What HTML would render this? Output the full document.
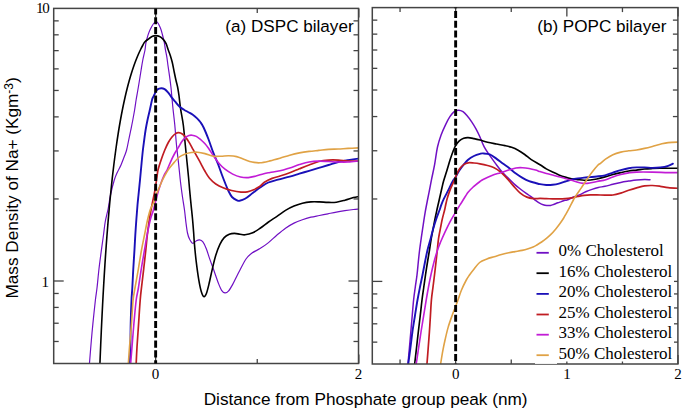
<!DOCTYPE html>
<html><head><meta charset="utf-8"><style>
html,body{margin:0;padding:0;background:#fff;width:685px;height:412px;overflow:hidden}
svg{display:block}
</style></head><body>
<svg width="685" height="412" viewBox="0 0 685 412">
<rect width="685" height="412" fill="#fff"/>
<clipPath id="cl"><rect x="53.70" y="8.40" width="304.80" height="355.10"/></clipPath>
<g clip-path="url(#cl)" fill="none" stroke-linejoin="round" stroke-linecap="round">
<path d="M89.50,363.00 C89.80,359.33 90.73,347.57 91.30,341.00 C91.87,334.43 92.22,330.43 92.90,323.60 C93.58,316.77 94.72,305.93 95.40,300.00 C96.08,294.07 96.40,293.20 97.00,288.00 C97.60,282.80 98.25,275.23 99.00,268.80 C99.75,262.37 100.75,255.03 101.50,249.40 C102.25,243.77 102.88,239.57 103.50,235.00 C104.12,230.43 104.42,226.42 105.20,222.00 C105.98,217.58 107.32,213.00 108.20,208.50 C109.08,204.00 109.48,199.75 110.50,195.00 C111.52,190.25 113.13,183.83 114.30,180.00 C115.47,176.17 116.38,174.50 117.50,172.00 C118.62,169.50 119.83,167.67 121.00,165.00 C122.17,162.33 123.57,158.50 124.50,156.00 C125.43,153.50 125.90,152.67 126.60,150.00 C127.30,147.33 128.00,143.33 128.70,140.00 C129.40,136.67 130.12,133.33 130.80,130.00 C131.48,126.67 132.17,123.33 132.80,120.00 C133.43,116.67 134.05,113.33 134.60,110.00 C135.15,106.67 135.62,103.00 136.10,100.00 C136.58,97.00 137.07,94.50 137.50,92.00 C137.93,89.50 138.28,87.50 138.70,85.00 C139.12,82.50 139.60,79.50 140.00,77.00 C140.40,74.50 140.63,72.83 141.10,70.00 C141.57,67.17 142.15,63.33 142.80,60.00 C143.45,56.67 144.42,53.17 145.00,50.00 C145.58,46.83 145.43,44.43 146.30,41.00 C147.17,37.57 148.58,32.65 150.20,29.40 C151.82,26.15 154.33,21.82 156.00,21.50 C157.67,21.18 159.12,25.25 160.20,27.50 C161.28,29.75 161.82,32.53 162.50,35.00 C163.18,37.47 163.82,39.87 164.30,42.30 C164.78,44.73 164.98,47.18 165.40,49.60 C165.82,52.02 166.38,54.23 166.80,56.80 C167.22,59.37 167.45,61.82 167.90,65.00 C168.35,68.18 169.00,72.27 169.50,75.90 C170.00,79.53 170.53,83.62 170.90,86.80 C171.27,89.98 171.35,91.33 171.70,95.00 C172.05,98.67 172.48,103.80 173.00,108.80 C173.52,113.80 174.22,118.97 174.80,125.00 C175.38,131.03 175.87,138.55 176.50,145.00 C177.13,151.45 177.93,157.53 178.60,163.70 C179.27,169.87 179.85,176.45 180.50,182.00 C181.15,187.55 181.83,192.33 182.50,197.00 C183.17,201.67 183.92,205.67 184.50,210.00 C185.08,214.33 185.50,219.17 186.00,223.00 C186.50,226.83 186.92,230.33 187.50,233.00 C188.08,235.67 188.63,237.28 189.50,239.00 C190.37,240.72 191.60,242.97 192.70,243.30 C193.80,243.63 194.97,241.57 196.10,241.00 C197.23,240.43 198.37,239.75 199.50,239.90 C200.63,240.05 201.77,240.43 202.90,241.90 C204.03,243.37 205.17,245.87 206.30,248.70 C207.43,251.53 208.42,255.22 209.70,258.90 C210.98,262.58 212.58,266.83 214.00,270.80 C215.42,274.77 216.93,279.45 218.20,282.70 C219.47,285.95 220.47,288.60 221.60,290.30 C222.73,292.00 223.87,292.75 225.00,292.90 C226.13,293.05 227.12,292.62 228.40,291.20 C229.68,289.78 231.28,286.95 232.70,284.40 C234.12,281.85 235.68,278.30 236.90,275.90 C238.12,273.50 238.48,272.82 240.00,270.00 C241.52,267.18 244.00,261.83 246.00,259.00 C248.00,256.17 249.67,254.73 252.00,253.00 C254.33,251.27 257.25,250.33 260.00,248.60 C262.75,246.87 265.67,244.87 268.50,242.60 C271.33,240.33 274.17,237.40 277.00,235.00 C279.83,232.60 282.67,230.18 285.50,228.20 C288.33,226.22 291.18,224.52 294.00,223.10 C296.82,221.68 299.58,220.68 302.40,219.70 C305.22,218.72 308.07,217.90 310.90,217.20 C313.73,216.50 316.57,216.07 319.40,215.50 C322.23,214.93 325.07,214.37 327.90,213.80 C330.73,213.23 333.57,212.62 336.40,212.10 C339.23,211.58 342.07,211.13 344.90,210.70 C347.73,210.27 351.13,209.78 353.40,209.50 C355.67,209.22 357.65,209.08 358.50,209.00" stroke="#7010c4" stroke-width="1.20"/>
<path d="M99.92,364.00 C100.05,360.83 100.41,351.50 100.69,345.00 C100.97,338.50 101.28,331.67 101.59,325.00 C101.91,318.33 102.23,311.67 102.58,305.00 C102.93,298.33 103.29,291.67 103.68,285.00 C104.07,278.33 104.47,271.67 104.90,265.00 C105.33,258.33 105.78,251.67 106.27,245.00 C106.75,238.33 107.26,231.67 107.81,225.00 C108.36,218.33 108.93,211.67 109.55,205.00 C110.17,198.33 110.82,191.67 111.53,185.00 C112.24,178.33 113.06,171.17 113.81,165.00 C114.56,158.83 115.30,153.33 116.04,148.00 C116.78,142.67 117.53,137.67 118.27,133.00 C119.01,128.33 119.71,124.17 120.46,120.00 C121.21,115.83 121.97,111.83 122.75,108.00 C123.53,104.17 124.36,100.33 125.11,97.00 C125.86,93.67 126.55,90.83 127.27,88.00 C127.99,85.17 128.72,82.50 129.42,80.00 C130.12,77.50 130.76,75.33 131.49,73.00 C132.22,70.67 133.06,68.17 133.81,66.00 C134.56,63.83 135.24,62.00 136.02,60.00 C136.80,58.00 137.70,55.83 138.50,54.00 C139.30,52.17 140.10,50.50 140.84,49.00 C141.58,47.50 142.29,46.17 142.94,45.00 C143.59,43.83 143.71,43.07 144.72,42.00 C145.73,40.93 147.70,39.55 149.00,38.60 C150.30,37.65 151.40,36.80 152.50,36.30 C153.60,35.80 154.42,35.57 155.60,35.60 C156.78,35.63 158.33,35.87 159.60,36.50 C160.87,37.13 162.12,38.20 163.20,39.40 C164.28,40.60 165.28,42.00 166.10,43.70 C166.92,45.40 167.40,47.65 168.10,49.60 C168.80,51.55 169.60,53.25 170.30,55.40 C171.00,57.55 171.65,59.73 172.30,62.50 C172.95,65.27 173.60,69.08 174.20,72.00 C174.80,74.92 175.33,77.50 175.90,80.00 C176.47,82.50 177.10,84.50 177.60,87.00 C178.10,89.50 178.40,91.37 178.90,95.00 C179.40,98.63 179.87,103.80 180.60,108.80 C181.33,113.80 182.52,118.97 183.30,125.00 C184.08,131.03 184.68,138.83 185.30,145.00 C185.92,151.17 186.45,156.50 187.00,162.00 C187.55,167.50 188.17,173.40 188.60,178.00 C189.03,182.60 189.20,185.25 189.60,189.60 C190.00,193.95 190.52,199.25 191.00,204.10 C191.48,208.95 192.07,214.05 192.50,218.70 C192.93,223.35 193.28,227.85 193.60,232.00 C193.92,236.15 193.98,238.83 194.40,243.60 C194.82,248.37 195.38,254.65 196.10,260.60 C196.82,266.55 197.85,274.20 198.70,279.30 C199.55,284.40 200.35,288.32 201.20,291.20 C202.05,294.08 202.95,296.18 203.80,296.60 C204.65,297.02 205.45,295.73 206.30,293.70 C207.15,291.67 207.90,288.50 208.90,284.40 C209.90,280.30 211.17,273.92 212.30,269.10 C213.43,264.28 214.43,259.62 215.70,255.50 C216.97,251.38 218.48,247.38 219.90,244.40 C221.32,241.42 222.63,239.30 224.20,237.60 C225.77,235.90 227.60,234.90 229.30,234.20 C231.00,233.50 232.62,233.40 234.40,233.40 C236.18,233.40 238.23,233.97 240.00,234.20 C241.77,234.43 242.88,235.03 245.00,234.80 C247.12,234.57 250.12,233.93 252.70,232.80 C255.28,231.67 257.87,229.80 260.50,228.00 C263.13,226.20 265.75,223.95 268.50,222.00 C271.25,220.05 274.17,218.23 277.00,216.30 C279.83,214.37 282.67,212.10 285.50,210.40 C288.33,208.70 291.18,207.30 294.00,206.10 C296.82,204.90 299.58,203.90 302.40,203.20 C305.22,202.50 308.07,202.12 310.90,201.90 C313.73,201.68 316.57,201.82 319.40,201.90 C322.23,201.98 325.07,202.35 327.90,202.40 C330.73,202.45 333.57,202.57 336.40,202.20 C339.23,201.83 342.07,200.97 344.90,200.20 C347.73,199.43 351.13,198.22 353.40,197.60 C355.67,196.98 357.65,196.68 358.50,196.50" stroke="#000000" stroke-width="1.60"/>
<path d="M129.90,363.00 C129.98,360.33 130.27,353.57 130.40,347.00 C130.53,340.43 130.52,331.43 130.70,323.60 C130.88,315.77 131.23,305.93 131.50,300.00 C131.77,294.07 132.00,293.20 132.30,288.00 C132.60,282.80 132.93,275.23 133.30,268.80 C133.67,262.37 134.17,255.03 134.50,249.40 C134.83,243.77 134.98,240.07 135.30,235.00 C135.62,229.93 136.03,224.00 136.40,219.00 C136.77,214.00 137.15,209.00 137.50,205.00 C137.85,201.00 138.08,199.17 138.50,195.00 C138.92,190.83 139.52,185.00 140.00,180.00 C140.48,175.00 140.92,170.00 141.40,165.00 C141.88,160.00 142.43,154.17 142.90,150.00 C143.37,145.83 143.75,143.33 144.20,140.00 C144.65,136.67 145.05,133.33 145.60,130.00 C146.15,126.67 146.80,123.33 147.50,120.00 C148.20,116.67 149.05,113.33 149.80,110.00 C150.55,106.67 151.45,102.13 152.00,100.00 C152.55,97.87 152.70,98.12 153.10,97.20 C153.50,96.28 153.95,95.40 154.40,94.50 C154.85,93.60 155.28,92.65 155.80,91.80 C156.32,90.95 156.60,90.00 157.50,89.40 C158.40,88.80 160.02,88.25 161.20,88.20 C162.38,88.15 163.47,88.42 164.60,89.10 C165.73,89.78 166.83,90.93 168.00,92.30 C169.17,93.67 170.38,95.73 171.60,97.30 C172.82,98.87 173.95,100.12 175.30,101.70 C176.65,103.28 178.25,105.47 179.70,106.80 C181.15,108.13 182.55,108.80 184.00,109.70 C185.45,110.60 186.93,111.35 188.40,112.20 C189.87,113.05 191.35,113.77 192.80,114.80 C194.25,115.83 195.82,117.15 197.10,118.40 C198.38,119.65 199.42,120.78 200.50,122.30 C201.58,123.82 202.28,124.72 203.60,127.50 C204.92,130.28 206.78,134.80 208.40,139.00 C210.02,143.20 211.70,148.53 213.30,152.70 C214.90,156.87 216.55,160.28 218.00,164.00 C219.45,167.72 220.75,171.67 222.00,175.00 C223.25,178.33 224.42,181.33 225.50,184.00 C226.58,186.67 227.42,188.83 228.50,191.00 C229.58,193.17 230.55,195.43 232.00,197.00 C233.45,198.57 235.95,199.77 237.20,200.40 C238.45,201.03 238.20,201.07 239.50,200.80 C240.80,200.53 242.80,200.10 245.00,198.80 C247.20,197.50 250.12,194.93 252.70,193.00 C255.28,191.07 257.90,188.95 260.50,187.20 C263.10,185.45 265.38,183.77 268.30,182.50 C271.22,181.23 274.43,180.58 278.00,179.60 C281.57,178.62 286.13,177.58 289.70,176.60 C293.27,175.62 296.17,174.67 299.40,173.70 C302.63,172.73 305.87,171.77 309.10,170.80 C312.33,169.83 315.57,168.87 318.80,167.90 C322.03,166.93 325.25,165.98 328.50,165.00 C331.75,164.02 335.05,162.82 338.30,162.00 C341.55,161.18 344.63,160.67 348.00,160.10 C351.37,159.53 356.75,158.85 358.50,158.60" stroke="#1a10b8" stroke-width="1.90"/>
<path d="M136.20,363.00 C136.33,360.33 136.60,353.57 137.00,347.00 C137.40,340.43 138.07,331.43 138.60,323.60 C139.13,315.77 139.67,306.43 140.20,300.00 C140.73,293.57 141.20,290.33 141.80,285.00 C142.40,279.67 143.13,273.83 143.80,268.00 C144.47,262.17 145.22,255.50 145.80,250.00 C146.38,244.50 146.77,239.67 147.30,235.00 C147.83,230.33 148.38,226.17 149.00,222.00 C149.62,217.83 150.33,213.67 151.00,210.00 C151.67,206.33 152.30,203.50 153.00,200.00 C153.70,196.50 154.57,192.67 155.20,189.00 C155.83,185.33 156.33,181.17 156.80,178.00 C157.27,174.83 157.28,173.00 158.00,170.00 C158.72,167.00 159.98,163.28 161.10,160.00 C162.22,156.72 163.50,153.22 164.70,150.30 C165.90,147.38 167.08,144.72 168.30,142.50 C169.52,140.28 170.78,138.48 172.00,137.00 C173.22,135.52 174.48,134.32 175.60,133.60 C176.72,132.88 177.58,132.63 178.70,132.70 C179.82,132.77 181.10,133.18 182.30,134.00 C183.50,134.82 184.68,136.08 185.90,137.60 C187.12,139.12 188.38,141.08 189.60,143.10 C190.82,145.12 191.98,147.48 193.20,149.70 C194.42,151.92 195.60,154.05 196.90,156.40 C198.20,158.75 199.70,161.40 201.00,163.80 C202.30,166.20 203.28,168.38 204.70,170.80 C206.12,173.22 207.65,176.10 209.50,178.30 C211.35,180.50 213.43,182.38 215.80,184.00 C218.17,185.62 221.07,186.92 223.70,188.00 C226.33,189.08 228.72,189.82 231.60,190.50 C234.48,191.18 238.37,191.88 241.00,192.10 C243.63,192.32 245.28,192.20 247.40,191.80 C249.52,191.40 251.60,190.62 253.70,189.70 C255.80,188.78 258.22,187.53 260.00,186.30 C261.78,185.07 262.38,183.62 264.40,182.30 C266.42,180.98 269.50,179.45 272.10,178.40 C274.70,177.35 277.07,176.95 280.00,176.00 C282.93,175.05 286.47,173.90 289.70,172.70 C292.93,171.50 296.17,170.08 299.40,168.80 C302.63,167.52 305.87,166.22 309.10,165.00 C312.33,163.78 315.57,162.32 318.80,161.50 C322.03,160.68 325.25,160.33 328.50,160.10 C331.75,159.87 335.05,159.95 338.30,160.10 C341.55,160.25 344.63,160.85 348.00,161.00 C351.37,161.15 356.75,161.00 358.50,161.00" stroke="#c01c22" stroke-width="1.70"/>
<path d="M130.70,363.00 C130.92,360.33 131.47,353.57 132.00,347.00 C132.53,340.43 133.20,331.43 133.90,323.60 C134.60,315.77 135.45,305.93 136.20,300.00 C136.95,294.07 137.55,293.20 138.40,288.00 C139.25,282.80 140.28,275.13 141.30,268.80 C142.32,262.47 143.47,255.97 144.50,250.00 C145.53,244.03 146.50,238.17 147.50,233.00 C148.50,227.83 149.55,222.72 150.50,219.00 C151.45,215.28 152.37,213.53 153.20,210.70 C154.03,207.87 154.73,204.95 155.50,202.00 C156.27,199.05 156.97,195.93 157.80,193.00 C158.63,190.07 159.40,187.45 160.50,184.40 C161.60,181.35 163.30,177.10 164.40,174.70 C165.50,172.30 166.03,172.23 167.10,170.00 C168.17,167.77 169.58,163.97 170.80,161.30 C172.02,158.63 173.18,156.23 174.40,154.00 C175.62,151.77 176.88,149.93 178.10,147.90 C179.32,145.87 180.50,143.52 181.70,141.80 C182.90,140.08 184.08,138.65 185.30,137.60 C186.52,136.55 187.88,135.90 189.00,135.50 C190.12,135.10 190.78,135.05 192.00,135.20 C193.22,135.35 194.78,135.60 196.30,136.40 C197.82,137.20 199.65,138.78 201.10,140.00 C202.55,141.22 203.77,142.32 205.00,143.70 C206.23,145.08 207.12,146.32 208.50,148.30 C209.88,150.28 211.53,153.08 213.30,155.60 C215.07,158.12 217.15,161.13 219.10,163.40 C221.05,165.67 222.73,167.42 225.00,169.20 C227.27,170.98 230.12,172.80 232.70,174.10 C235.28,175.40 237.90,176.42 240.50,177.00 C243.10,177.58 245.72,177.77 248.30,177.60 C250.88,177.43 253.42,176.65 256.00,176.00 C258.58,175.35 261.47,174.28 263.80,173.70 C266.13,173.12 267.30,172.98 270.00,172.50 C272.70,172.02 276.72,171.57 280.00,170.80 C283.28,170.03 286.47,168.93 289.70,167.90 C292.93,166.87 296.17,165.58 299.40,164.60 C302.63,163.62 305.87,162.58 309.10,162.00 C312.33,161.42 315.57,161.18 318.80,161.10 C322.03,161.02 325.25,161.35 328.50,161.50 C331.75,161.65 335.05,161.92 338.30,162.00 C341.55,162.08 344.63,162.17 348.00,162.00 C351.37,161.83 356.75,161.17 358.50,161.00" stroke="#c21cd6" stroke-width="1.60"/>
<path d="M128.40,363.00 C128.58,360.33 128.98,353.57 129.50,347.00 C130.02,340.43 130.90,331.43 131.50,323.60 C132.10,315.77 132.52,305.93 133.10,300.00 C133.68,294.07 134.12,293.20 135.00,288.00 C135.88,282.80 137.32,275.13 138.40,268.80 C139.48,262.47 140.48,255.63 141.50,250.00 C142.52,244.37 143.50,240.00 144.50,235.00 C145.50,230.00 146.50,224.33 147.50,220.00 C148.50,215.67 149.40,212.02 150.50,209.00 C151.60,205.98 153.10,204.38 154.10,201.90 C155.10,199.42 155.70,196.37 156.50,194.10 C157.30,191.83 158.02,190.40 158.90,188.30 C159.78,186.20 160.82,183.60 161.80,181.50 C162.78,179.40 163.73,177.63 164.80,175.70 C165.87,173.77 166.87,171.85 168.20,169.90 C169.53,167.95 170.95,166.15 172.80,164.00 C174.65,161.85 177.22,158.67 179.30,157.00 C181.38,155.33 183.28,154.75 185.30,154.00 C187.32,153.25 189.37,152.80 191.40,152.50 C193.43,152.20 195.23,152.02 197.50,152.20 C199.77,152.38 202.37,152.93 205.00,153.60 C207.63,154.27 210.62,155.77 213.30,156.20 C215.98,156.63 218.52,156.27 221.10,156.20 C223.68,156.13 226.22,155.73 228.80,155.80 C231.38,155.87 234.00,155.98 236.60,156.60 C239.20,157.22 241.82,158.60 244.40,159.50 C246.98,160.40 249.52,161.45 252.10,162.00 C254.68,162.55 256.92,162.98 259.90,162.80 C262.88,162.62 266.65,161.67 270.00,160.90 C273.35,160.13 276.72,159.15 280.00,158.20 C283.28,157.25 286.47,156.08 289.70,155.20 C292.93,154.32 296.17,153.53 299.40,152.90 C302.63,152.27 305.87,151.82 309.10,151.40 C312.33,150.98 315.57,150.73 318.80,150.40 C322.03,150.07 325.25,149.63 328.50,149.40 C331.75,149.17 335.05,149.17 338.30,149.00 C341.55,148.83 344.63,148.58 348.00,148.40 C351.37,148.22 356.75,147.98 358.50,147.90" stroke="#e0a245" stroke-width="1.60"/>
</g>
<g stroke="#444" stroke-width="1.3">
<line x1="53.70" y1="341.48" x2="58.70" y2="341.48"/>
<line x1="353.50" y1="341.48" x2="358.50" y2="341.48"/>
<line x1="53.70" y1="323.23" x2="58.70" y2="323.23"/>
<line x1="353.50" y1="323.23" x2="358.50" y2="323.23"/>
<line x1="53.70" y1="307.42" x2="58.70" y2="307.42"/>
<line x1="353.50" y1="307.42" x2="358.50" y2="307.42"/>
<line x1="53.70" y1="293.47" x2="58.70" y2="293.47"/>
<line x1="353.50" y1="293.47" x2="358.50" y2="293.47"/>
<line x1="53.70" y1="198.94" x2="58.70" y2="198.94"/>
<line x1="353.50" y1="198.94" x2="358.50" y2="198.94"/>
<line x1="53.70" y1="150.94" x2="58.70" y2="150.94"/>
<line x1="353.50" y1="150.94" x2="358.50" y2="150.94"/>
<line x1="53.70" y1="116.88" x2="58.70" y2="116.88"/>
<line x1="353.50" y1="116.88" x2="358.50" y2="116.88"/>
<line x1="53.70" y1="90.46" x2="58.70" y2="90.46"/>
<line x1="353.50" y1="90.46" x2="358.50" y2="90.46"/>
<line x1="53.70" y1="68.88" x2="58.70" y2="68.88"/>
<line x1="353.50" y1="68.88" x2="358.50" y2="68.88"/>
<line x1="53.70" y1="50.63" x2="58.70" y2="50.63"/>
<line x1="353.50" y1="50.63" x2="358.50" y2="50.63"/>
<line x1="53.70" y1="34.82" x2="58.70" y2="34.82"/>
<line x1="353.50" y1="34.82" x2="358.50" y2="34.82"/>
<line x1="53.70" y1="20.87" x2="58.70" y2="20.87"/>
<line x1="353.50" y1="20.87" x2="358.50" y2="20.87"/>
<line x1="53.70" y1="281.00" x2="63.70" y2="281.00"/>
<line x1="348.50" y1="281.00" x2="358.50" y2="281.00"/>
<line x1="155.65" y1="363.50" x2="155.65" y2="354.50"/>
<line x1="155.65" y1="8.40" x2="155.65" y2="17.40"/>
<line x1="358.85" y1="363.50" x2="358.85" y2="354.50"/>
<line x1="358.85" y1="8.40" x2="358.85" y2="17.40"/>
<line x1="257.25" y1="363.50" x2="257.25" y2="359.00"/>
<line x1="257.25" y1="8.40" x2="257.25" y2="12.90"/>
</g>
<rect x="53.70" y="8.40" width="304.80" height="355.10" fill="none" stroke="#444" stroke-width="1.5"/>
<line x1="155.65" y1="8.40" x2="155.65" y2="363.50" stroke="#000" stroke-width="2.9" stroke-dasharray="7.1 2.7" stroke-dashoffset="1.06"/>
<clipPath id="cr"><rect x="372.30" y="7.60" width="305.60" height="356.40"/></clipPath>
<g clip-path="url(#cr)" fill="none" stroke-linejoin="round" stroke-linecap="round">
<path d="M408.00,363.50 C408.23,360.92 408.93,353.25 409.40,348.00 C409.87,342.75 410.33,337.33 410.80,332.00 C411.27,326.67 411.73,321.33 412.20,316.00 C412.67,310.67 413.08,304.83 413.60,300.00 C414.12,295.17 414.73,291.17 415.30,287.00 C415.87,282.83 416.50,279.17 417.00,275.00 C417.50,270.83 417.87,266.17 418.30,262.00 C418.73,257.83 419.07,254.27 419.60,250.00 C420.13,245.73 420.88,240.68 421.50,236.40 C422.12,232.12 422.68,228.35 423.30,224.30 C423.92,220.25 424.47,216.32 425.20,212.10 C425.93,207.88 426.95,202.85 427.70,199.00 C428.45,195.15 429.05,192.32 429.70,189.00 C430.35,185.68 430.78,183.17 431.60,179.10 C432.42,175.03 433.62,169.95 434.60,164.60 C435.58,159.25 436.42,151.93 437.50,147.00 C438.58,142.07 439.77,138.70 441.10,135.00 C442.43,131.30 444.03,127.85 445.50,124.80 C446.97,121.75 448.45,118.88 449.90,116.70 C451.35,114.52 452.75,112.78 454.20,111.70 C455.65,110.62 457.13,110.20 458.60,110.20 C460.07,110.20 461.55,110.73 463.00,111.70 C464.45,112.67 465.85,114.32 467.30,116.00 C468.75,117.68 470.23,119.62 471.70,121.80 C473.17,123.98 474.80,126.73 476.10,129.10 C477.40,131.47 478.15,133.03 479.50,136.00 C480.85,138.97 482.50,143.67 484.20,146.90 C485.90,150.13 487.80,152.62 489.70,155.40 C491.60,158.18 493.53,160.83 495.60,163.60 C497.67,166.37 500.00,169.58 502.10,172.00 C504.20,174.42 506.17,176.08 508.20,178.10 C510.23,180.12 512.28,182.28 514.30,184.10 C516.32,185.92 517.92,187.18 520.30,189.00 C522.68,190.82 526.60,193.55 528.60,195.00 C530.60,196.45 531.08,196.75 532.30,197.70 C533.52,198.65 534.68,199.78 535.90,200.70 C537.12,201.62 538.38,202.52 539.60,203.20 C540.82,203.88 542.00,204.42 543.20,204.80 C544.40,205.18 545.58,205.38 546.80,205.50 C548.02,205.62 549.28,205.70 550.50,205.50 C551.72,205.30 552.88,204.75 554.10,204.30 C555.32,203.85 556.58,203.25 557.80,202.80 C559.02,202.35 560.20,202.02 561.40,201.60 C562.60,201.18 564.10,200.55 565.00,200.30 C565.90,200.05 565.45,200.60 566.80,200.10 C568.15,199.60 571.00,198.17 573.10,197.30 C575.20,196.43 577.30,195.82 579.40,194.90 C581.50,193.98 583.60,192.72 585.70,191.80 C587.80,190.88 589.90,190.12 592.00,189.40 C594.10,188.68 596.13,188.02 598.30,187.50 C600.47,186.98 602.57,186.83 605.00,186.30 C607.43,185.77 610.27,184.95 612.90,184.30 C615.53,183.65 618.17,182.93 620.80,182.40 C623.43,181.87 626.07,181.50 628.70,181.10 C631.33,180.70 633.97,180.27 636.60,180.00 C639.23,179.73 642.27,179.55 644.50,179.50 C646.73,179.45 649.08,179.67 650.00,179.70" stroke="#7010c4" stroke-width="1.50"/>
<path d="M414.70,363.50 C415.00,360.92 415.90,353.25 416.50,348.00 C417.10,342.75 417.68,337.33 418.30,332.00 C418.92,326.67 419.58,321.33 420.20,316.00 C420.82,310.67 421.40,304.83 422.00,300.00 C422.60,295.17 423.22,291.17 423.80,287.00 C424.38,282.83 424.88,279.17 425.50,275.00 C426.12,270.83 426.83,266.17 427.50,262.00 C428.17,257.83 428.88,253.87 429.50,250.00 C430.12,246.13 430.60,242.28 431.20,238.80 C431.80,235.32 432.48,232.33 433.10,229.10 C433.72,225.87 434.27,222.58 434.90,219.40 C435.53,216.22 436.30,212.73 436.90,210.00 C437.50,207.27 437.95,205.42 438.50,203.00 C439.05,200.58 439.63,198.00 440.20,195.50 C440.77,193.00 441.33,190.42 441.90,188.00 C442.47,185.58 442.77,183.93 443.60,181.00 C444.43,178.07 445.80,173.98 446.90,170.40 C448.00,166.82 449.18,162.65 450.20,159.50 C451.22,156.35 452.08,153.87 453.00,151.50 C453.92,149.13 454.65,147.08 455.70,145.30 C456.75,143.52 457.97,141.98 459.30,140.80 C460.63,139.62 462.23,138.73 463.70,138.20 C465.17,137.67 466.38,137.53 468.10,137.60 C469.82,137.67 472.02,138.20 474.00,138.60 C475.98,139.00 477.75,139.40 480.00,140.00 C482.25,140.60 484.78,141.53 487.50,142.20 C490.22,142.87 493.38,143.43 496.30,144.00 C499.22,144.57 502.45,145.05 505.00,145.60 C507.55,146.15 509.42,146.53 511.60,147.30 C513.78,148.07 515.92,149.00 518.10,150.20 C520.28,151.40 522.50,152.93 524.70,154.50 C526.90,156.07 528.75,157.88 531.30,159.60 C533.85,161.32 537.50,163.25 540.00,164.80 C542.50,166.35 544.20,167.68 546.30,168.90 C548.40,170.12 550.50,171.10 552.60,172.10 C554.70,173.10 556.80,174.07 558.90,174.90 C561.00,175.73 563.10,176.47 565.20,177.10 C567.30,177.73 569.40,178.28 571.50,178.70 C573.60,179.12 575.70,179.33 577.80,179.60 C579.90,179.87 582.00,180.23 584.10,180.30 C586.20,180.37 588.28,180.22 590.40,180.00 C592.52,179.78 594.37,179.52 596.80,179.00 C599.23,178.48 602.32,177.65 605.00,176.90 C607.68,176.15 610.27,175.22 612.90,174.50 C615.53,173.78 618.17,173.18 620.80,172.60 C623.43,172.02 626.07,171.42 628.70,171.00 C631.33,170.58 633.97,170.43 636.60,170.10 C639.23,169.77 641.87,169.27 644.50,169.00 C647.13,168.73 649.77,168.63 652.40,168.50 C655.03,168.37 657.67,168.25 660.30,168.20 C662.93,168.15 664.92,168.20 668.20,168.20 C671.48,168.20 678.03,168.20 680.00,168.20" stroke="#000000" stroke-width="1.65"/>
<path d="M408.30,363.50 C408.65,360.92 409.72,353.25 410.40,348.00 C411.08,342.75 411.65,337.33 412.40,332.00 C413.15,326.67 414.05,321.33 414.90,316.00 C415.75,310.67 416.65,304.83 417.50,300.00 C418.35,295.17 419.17,291.17 420.00,287.00 C420.83,282.83 421.67,279.17 422.50,275.00 C423.33,270.83 424.17,266.17 425.00,262.00 C425.83,257.83 426.57,253.87 427.50,250.00 C428.43,246.13 429.67,242.28 430.60,238.80 C431.53,235.32 432.18,232.33 433.10,229.10 C434.02,225.87 435.02,222.58 436.10,219.40 C437.18,216.22 438.73,212.43 439.60,210.00 C440.47,207.57 440.60,206.65 441.30,204.80 C442.00,202.95 442.88,200.85 443.80,198.90 C444.72,196.95 445.82,195.03 446.80,193.10 C447.78,191.17 448.73,189.23 449.70,187.30 C450.67,185.37 451.60,183.23 452.60,181.50 C453.60,179.77 454.58,178.75 455.70,176.90 C456.82,175.05 457.97,172.45 459.30,170.40 C460.63,168.35 462.23,166.38 463.70,164.60 C465.17,162.82 466.40,161.13 468.10,159.70 C469.80,158.27 471.92,156.98 473.90,156.00 C475.88,155.02 478.47,154.23 480.00,153.80 C481.53,153.37 481.48,153.29 483.10,153.40 C484.72,153.51 487.50,153.58 489.70,154.45 C491.90,155.32 494.12,157.10 496.30,158.61 C498.48,160.12 500.62,161.90 502.80,163.51 C504.98,165.12 507.22,166.61 509.40,168.27 C511.58,169.93 513.72,171.86 515.90,173.46 C518.08,175.06 520.30,176.57 522.50,177.86 C524.70,179.15 526.92,180.34 529.10,181.19 C531.28,182.04 533.78,182.47 535.60,182.97 C537.42,183.47 538.22,183.85 540.00,184.19 C541.78,184.53 544.20,184.90 546.30,185.00 C548.40,185.10 550.50,185.02 552.60,184.80 C554.70,184.58 556.80,184.25 558.90,183.70 C561.00,183.15 563.10,182.18 565.20,181.50 C567.30,180.82 569.40,180.12 571.50,179.60 C573.60,179.08 575.70,178.73 577.80,178.40 C579.90,178.07 582.00,177.82 584.10,177.60 C586.20,177.38 588.28,177.28 590.40,177.10 C592.52,176.92 594.37,176.80 596.80,176.50 C599.23,176.20 602.32,175.95 605.00,175.30 C607.68,174.65 610.27,173.47 612.90,172.60 C615.53,171.73 618.17,170.83 620.80,170.10 C623.43,169.37 626.07,168.65 628.70,168.20 C631.33,167.75 633.97,167.53 636.60,167.40 C639.23,167.27 641.87,167.32 644.50,167.40 C647.13,167.48 649.77,167.90 652.40,167.90 C655.03,167.90 657.67,167.75 660.30,167.40 C662.93,167.05 666.10,166.42 668.20,165.80 C670.30,165.18 672.12,164.05 672.90,163.70" stroke="#1a10b8" stroke-width="1.90"/>
<path d="M427.00,363.50 C427.20,360.92 427.80,353.25 428.20,348.00 C428.60,342.75 429.03,337.33 429.40,332.00 C429.77,326.67 430.07,321.33 430.40,316.00 C430.73,310.67 430.97,304.83 431.40,300.00 C431.83,295.17 432.48,291.17 433.00,287.00 C433.52,282.83 434.00,279.17 434.50,275.00 C435.00,270.83 435.53,266.17 436.00,262.00 C436.47,257.83 436.88,253.87 437.30,250.00 C437.72,246.13 438.00,242.28 438.50,238.80 C439.00,235.32 439.68,232.33 440.30,229.10 C440.92,225.87 441.48,222.58 442.20,219.40 C442.92,216.22 444.02,212.43 444.60,210.00 C445.18,207.57 445.28,206.65 445.70,204.80 C446.12,202.95 446.57,200.85 447.10,198.90 C447.63,196.95 448.23,195.03 448.90,193.10 C449.57,191.17 450.22,189.38 451.10,187.30 C451.98,185.22 453.20,182.93 454.20,180.60 C455.20,178.27 456.13,175.37 457.10,173.30 C458.07,171.23 458.90,169.65 460.00,168.20 C461.10,166.75 462.35,165.50 463.70,164.60 C465.05,163.70 466.40,163.07 468.10,162.80 C469.80,162.53 471.92,162.83 473.90,163.00 C475.88,163.17 477.73,163.38 480.00,163.80 C482.27,164.22 485.15,164.85 487.50,165.50 C489.85,166.15 491.92,166.62 494.10,167.70 C496.28,168.78 498.42,170.18 500.60,172.00 C502.78,173.82 505.00,176.21 507.20,178.60 C509.40,180.99 511.62,183.91 513.80,186.32 C515.98,188.73 518.12,191.28 520.30,193.08 C522.48,194.88 524.72,196.21 526.90,197.13 C529.08,198.05 531.22,198.38 533.40,198.60 C535.58,198.82 537.85,198.45 540.00,198.45 C542.15,198.45 544.20,198.55 546.30,198.62 C548.40,198.69 550.50,198.85 552.60,198.90 C554.70,198.95 556.80,198.95 558.90,198.90 C561.00,198.85 563.10,198.78 565.20,198.60 C567.30,198.42 569.40,198.15 571.50,197.80 C573.60,197.45 575.70,196.90 577.80,196.50 C579.90,196.10 582.00,195.67 584.10,195.40 C586.20,195.13 588.28,194.98 590.40,194.90 C592.52,194.82 594.37,194.87 596.80,194.90 C599.23,194.93 602.32,195.08 605.00,195.10 C607.68,195.12 610.27,195.33 612.90,195.00 C615.53,194.67 618.17,193.88 620.80,193.10 C623.43,192.32 626.07,191.17 628.70,190.30 C631.33,189.43 633.97,188.63 636.60,187.90 C639.23,187.17 641.87,186.30 644.50,185.90 C647.13,185.50 649.77,185.43 652.40,185.50 C655.03,185.57 657.67,185.95 660.30,186.30 C662.93,186.65 664.92,187.25 668.20,187.60 C671.48,187.95 678.03,188.27 680.00,188.40" stroke="#c01c22" stroke-width="1.70"/>
<path d="M416.30,363.50 C416.68,360.92 417.82,353.25 418.60,348.00 C419.38,342.75 420.17,337.33 421.00,332.00 C421.83,326.67 422.73,321.33 423.60,316.00 C424.47,310.67 425.38,304.83 426.20,300.00 C427.02,295.17 427.72,291.17 428.50,287.00 C429.28,282.83 429.98,279.17 430.90,275.00 C431.82,270.83 432.90,266.17 434.00,262.00 C435.10,257.83 436.35,253.45 437.50,250.00 C438.65,246.55 439.62,244.37 440.90,241.30 C442.18,238.23 443.68,234.85 445.20,231.60 C446.72,228.35 448.38,224.85 450.00,221.80 C451.62,218.75 453.23,216.12 454.90,213.30 C456.57,210.48 458.78,206.87 460.00,204.90 C461.22,202.93 460.85,203.62 462.20,201.50 C463.55,199.38 466.15,194.72 468.10,192.20 C470.05,189.68 471.92,188.18 473.90,186.40 C475.88,184.62 478.47,182.65 480.00,181.50 C481.53,180.35 481.12,180.50 483.10,179.50 C485.08,178.50 488.98,176.63 491.90,175.50 C494.82,174.37 497.68,173.64 500.60,172.70 C503.52,171.75 506.85,170.62 509.40,169.83 C511.95,169.04 513.72,168.29 515.90,167.93 C518.08,167.57 520.30,167.59 522.50,167.69 C524.70,167.79 526.92,168.11 529.10,168.51 C531.28,168.91 533.78,169.55 535.60,170.06 C537.42,170.57 538.22,171.00 540.00,171.57 C541.78,172.14 544.20,172.93 546.30,173.50 C548.40,174.07 550.50,174.45 552.60,175.00 C554.70,175.55 556.80,176.23 558.90,176.80 C561.00,177.37 563.10,177.82 565.20,178.40 C567.30,178.98 569.40,179.65 571.50,180.30 C573.60,180.95 575.82,181.78 577.80,182.30 C579.78,182.82 581.82,183.22 583.40,183.40 C584.98,183.58 585.60,183.58 587.30,183.40 C589.00,183.22 591.50,182.72 593.60,182.30 C595.70,181.88 598.00,181.28 599.90,180.90 C601.80,180.52 602.83,180.67 605.00,180.00 C607.17,179.33 610.27,177.82 612.90,176.90 C615.53,175.98 618.17,175.17 620.80,174.50 C623.43,173.83 626.07,173.30 628.70,172.90 C631.33,172.50 632.65,172.23 636.60,172.10 C640.55,171.97 647.13,172.02 652.40,172.10 C657.67,172.18 663.60,172.52 668.20,172.60 C672.80,172.68 678.03,172.60 680.00,172.60" stroke="#c21cd6" stroke-width="1.60"/>
<path d="M440.70,363.50 C441.03,361.48 441.95,355.43 442.70,351.40 C443.45,347.37 444.28,343.35 445.20,339.30 C446.12,335.25 447.02,331.15 448.20,327.10 C449.38,323.05 451.13,318.27 452.30,315.00 C453.47,311.73 454.25,310.00 455.20,307.50 C456.15,305.00 456.95,302.92 458.00,300.00 C459.05,297.08 460.12,293.33 461.50,290.00 C462.88,286.67 464.97,282.50 466.30,280.00 C467.63,277.50 468.33,276.67 469.50,275.00 C470.67,273.33 471.62,272.08 473.30,270.00 C474.98,267.92 477.33,264.35 479.60,262.50 C481.87,260.65 484.47,259.87 486.90,258.90 C489.33,257.93 491.77,257.43 494.20,256.70 C496.63,255.97 499.07,255.17 501.50,254.50 C503.93,253.83 506.55,253.18 508.80,252.70 C511.05,252.22 512.78,251.98 515.00,251.60 C517.22,251.22 519.90,250.87 522.10,250.40 C524.30,249.93 526.37,249.35 528.20,248.80 C530.03,248.25 531.58,247.78 533.10,247.10 C534.62,246.42 535.88,245.55 537.30,244.70 C538.72,243.85 540.13,243.02 541.60,242.00 C543.07,240.98 544.55,239.87 546.10,238.60 C547.65,237.33 549.28,236.02 550.90,234.40 C552.52,232.78 554.28,230.72 555.80,228.90 C557.32,227.08 558.68,225.32 560.00,223.50 C561.32,221.68 562.67,219.65 563.70,218.00 C564.73,216.35 565.22,215.38 566.20,213.60 C567.18,211.82 568.40,209.57 569.60,207.30 C570.80,205.03 572.40,201.85 573.40,200.00 C574.40,198.15 574.25,198.27 575.60,196.20 C576.95,194.13 579.62,190.38 581.50,187.60 C583.38,184.82 585.08,182.13 586.90,179.50 C588.72,176.87 590.58,174.17 592.40,171.80 C594.22,169.43 596.45,166.72 597.80,165.30 C599.15,163.88 599.22,164.32 600.50,163.30 C601.78,162.28 603.43,160.63 605.50,159.20 C607.57,157.77 610.35,155.88 612.90,154.70 C615.45,153.52 618.17,152.75 620.80,152.10 C623.43,151.45 626.07,151.15 628.70,150.80 C631.33,150.45 633.97,150.40 636.60,150.00 C639.23,149.60 641.87,149.00 644.50,148.40 C647.13,147.80 649.77,147.10 652.40,146.40 C655.03,145.70 657.67,144.83 660.30,144.20 C662.93,143.57 664.92,142.95 668.20,142.60 C671.48,142.25 678.03,142.18 680.00,142.10" stroke="#e0a245" stroke-width="1.60"/>
</g>
<g stroke="#444" stroke-width="1.3">
<line x1="372.30" y1="342.14" x2="377.30" y2="342.14"/>
<line x1="672.90" y1="342.14" x2="677.90" y2="342.14"/>
<line x1="372.30" y1="323.81" x2="377.30" y2="323.81"/>
<line x1="672.90" y1="323.81" x2="677.90" y2="323.81"/>
<line x1="372.30" y1="307.93" x2="377.30" y2="307.93"/>
<line x1="672.90" y1="307.93" x2="677.90" y2="307.93"/>
<line x1="372.30" y1="293.93" x2="377.30" y2="293.93"/>
<line x1="672.90" y1="293.93" x2="677.90" y2="293.93"/>
<line x1="372.30" y1="198.98" x2="377.30" y2="198.98"/>
<line x1="672.90" y1="198.98" x2="677.90" y2="198.98"/>
<line x1="372.30" y1="150.76" x2="377.30" y2="150.76"/>
<line x1="672.90" y1="150.76" x2="677.90" y2="150.76"/>
<line x1="372.30" y1="116.56" x2="377.30" y2="116.56"/>
<line x1="672.90" y1="116.56" x2="677.90" y2="116.56"/>
<line x1="372.30" y1="90.02" x2="377.30" y2="90.02"/>
<line x1="672.90" y1="90.02" x2="677.90" y2="90.02"/>
<line x1="372.30" y1="68.34" x2="377.30" y2="68.34"/>
<line x1="672.90" y1="68.34" x2="677.90" y2="68.34"/>
<line x1="372.30" y1="50.01" x2="377.30" y2="50.01"/>
<line x1="672.90" y1="50.01" x2="677.90" y2="50.01"/>
<line x1="372.30" y1="34.13" x2="377.30" y2="34.13"/>
<line x1="672.90" y1="34.13" x2="677.90" y2="34.13"/>
<line x1="372.30" y1="20.13" x2="377.30" y2="20.13"/>
<line x1="672.90" y1="20.13" x2="677.90" y2="20.13"/>
<line x1="372.30" y1="281.40" x2="382.30" y2="281.40"/>
<line x1="667.90" y1="281.40" x2="677.90" y2="281.40"/>
<line x1="455.65" y1="364.00" x2="455.65" y2="355.00"/>
<line x1="455.65" y1="7.60" x2="455.65" y2="16.60"/>
<line x1="566.85" y1="364.00" x2="566.85" y2="355.00"/>
<line x1="566.85" y1="7.60" x2="566.85" y2="16.60"/>
<line x1="678.05" y1="364.00" x2="678.05" y2="355.00"/>
<line x1="678.05" y1="7.60" x2="678.05" y2="16.60"/>
<line x1="400.05" y1="364.00" x2="400.05" y2="359.50"/>
<line x1="400.05" y1="7.60" x2="400.05" y2="12.10"/>
<line x1="511.25" y1="364.00" x2="511.25" y2="359.50"/>
<line x1="511.25" y1="7.60" x2="511.25" y2="12.10"/>
<line x1="622.45" y1="364.00" x2="622.45" y2="359.50"/>
<line x1="622.45" y1="7.60" x2="622.45" y2="12.10"/>
</g>
<rect x="372.30" y="7.60" width="305.60" height="356.40" fill="none" stroke="#444" stroke-width="1.5"/>
<line x1="455.65" y1="7.60" x2="455.65" y2="364.00" stroke="#000" stroke-width="2.9" stroke-dasharray="7.1 2.7" stroke-dashoffset="6.50"/>
<text x="36" y="12.9" letter-spacing="-1.2" font-family="Liberation Serif, serif" font-size="15" fill="#000">10</text>
<text x="49" y="286.7" text-anchor="end" font-family="Liberation Serif, serif" font-size="15" fill="#000">1</text>
<text x="155.50" y="379.2" text-anchor="middle" font-family="Liberation Serif, serif" font-size="15" fill="#000">0</text>
<text x="358.60" y="379.2" text-anchor="middle" font-family="Liberation Serif, serif" font-size="15" fill="#000">2</text>
<text x="455.70" y="379.2" text-anchor="middle" font-family="Liberation Serif, serif" font-size="15" fill="#000">0</text>
<text x="566.90" y="379.2" text-anchor="middle" font-family="Liberation Serif, serif" font-size="15" fill="#000">1</text>
<text x="678.10" y="379.2" text-anchor="middle" font-family="Liberation Serif, serif" font-size="15" fill="#000">2</text>
<text x="353.6" y="32.4" text-anchor="end" font-size="17.1" font-family="Liberation Sans, sans-serif" fill="#000">(a) DSPC bilayer</text>
<text x="666.4" y="32.4" text-anchor="end" font-size="17.1" font-family="Liberation Sans, sans-serif" fill="#000">(b) POPC bilayer</text>
<text x="365.6" y="404.5" text-anchor="middle" font-size="17.2" font-family="Liberation Sans, sans-serif" fill="#000">Distance from Phosphate group peak (nm)</text>
<text transform="translate(17.8,187.9) rotate(-90)" text-anchor="middle" font-size="17.2" font-family="Liberation Sans, sans-serif" fill="#000">Mass Density of Na+ (Kgm<tspan dy="-4.5" font-size="12">-3</tspan><tspan dy="4.5">)</tspan></text>
<rect x="552" y="243.5" width="122" height="118" fill="#fff"/>
<rect x="535" y="250" width="22" height="113.9" fill="#fff"/>
<line x1="536.5" y1="252.80" x2="548.8" y2="252.80" stroke="#7010c4" stroke-width="1.8"/>
<text x="558.5" y="256.30" font-family="Liberation Serif, serif" font-size="17" fill="#000">0% Cholesterol</text>
<line x1="536.5" y1="273.20" x2="548.8" y2="273.20" stroke="#000000" stroke-width="1.8"/>
<text x="558.5" y="276.70" font-family="Liberation Serif, serif" font-size="17" fill="#000">16% Cholesterol</text>
<line x1="536.5" y1="293.90" x2="548.8" y2="293.90" stroke="#1a10b8" stroke-width="1.8"/>
<text x="558.5" y="297.40" font-family="Liberation Serif, serif" font-size="17" fill="#000">20% Cholesterol</text>
<line x1="536.5" y1="314.50" x2="548.8" y2="314.50" stroke="#c01c22" stroke-width="1.8"/>
<text x="558.5" y="318.00" font-family="Liberation Serif, serif" font-size="17" fill="#000">25% Cholesterol</text>
<line x1="536.5" y1="334.70" x2="548.8" y2="334.70" stroke="#c21cd6" stroke-width="1.8"/>
<text x="558.5" y="338.20" font-family="Liberation Serif, serif" font-size="17" fill="#000">33% Cholesterol</text>
<line x1="536.5" y1="355.20" x2="548.8" y2="355.20" stroke="#e0a245" stroke-width="1.8"/>
<text x="558.5" y="358.70" font-family="Liberation Serif, serif" font-size="17" fill="#000">50% Cholesterol</text>
</svg>
</body></html>
